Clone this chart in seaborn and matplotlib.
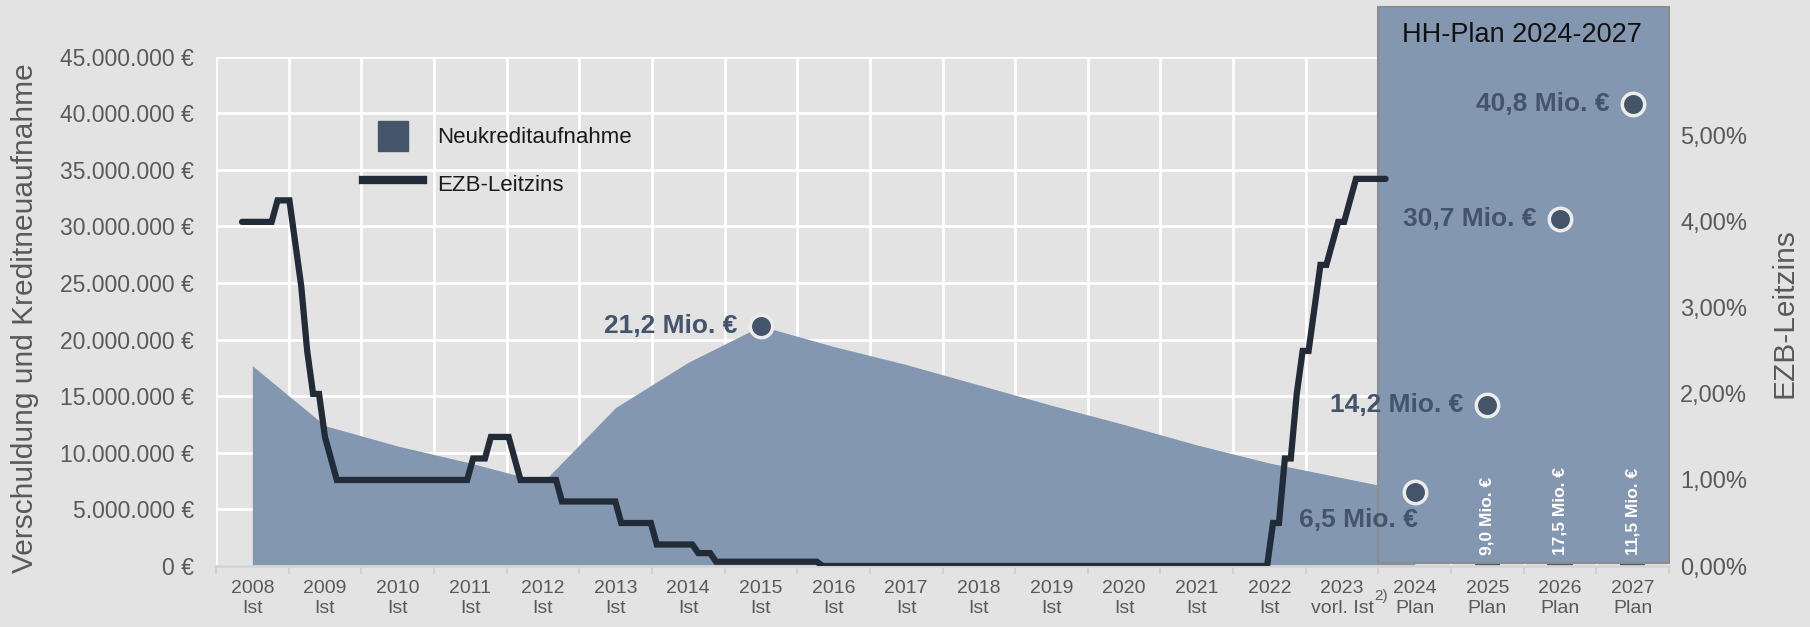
import numpy as np
import pandas as pd
import seaborn as sns
import matplotlib.pyplot as plt
from matplotlib.patches import Rectangle, Patch
from matplotlib.lines import Line2D
from matplotlib.legend_handler import HandlerPatch
from matplotlib.ticker import FuncFormatter, MultipleLocator

plt.rcParams['font.family'] = ['Liberation Sans Narrow', 'Liberation Sans', 'DejaVu Sans']

# categories on the x axis
years = [str(y) for y in range(2008, 2028)]
status = ['Ist'] * 15 + ['vorl. Ist'] + ['Plan'] * 4

# Verschuldung (area), Mio. EUR, 2008-2024
debt_years = years[:17]
debt = [17.7, 12.4, 10.6, 9.1, 7.4, 14.0, 18.0, 21.2, 19.4, 17.8, 16.0, 14.2, 12.5, 10.7, 9.1, 7.8, 6.5]

# marked debt values
mark_years = ['2015', '2024', '2025', '2026', '2027']
mark_values = [21.2, 6.5, 14.2, 30.7, 40.8]
mark_labels = ['21,2 Mio. €', '6,5 Mio. €', '14,2 Mio. €', '30,7 Mio. €', '40,8 Mio. €']

# Neukreditaufnahme (plan), Mio. EUR
new_years = ['2025', '2026', '2027']
new_credit = [9.0, 17.5, 11.5]
new_labels = ['9,0 Mio. €', '17,5 Mio. €', '11,5 Mio. €']

# EZB-Leitzins: month of change and new rate in %
rate_dates = ['2008-01', '2008-07', '2008-10', '2008-11', '2008-12', '2009-01', '2009-03', '2009-04',
              '2009-05', '2011-04', '2011-07', '2011-11', '2011-12', '2012-07', '2013-05', '2013-11',
              '2014-06', '2014-09', '2016-03', '2022-07', '2022-09', '2022-11', '2022-12', '2023-02',
              '2023-03', '2023-05', '2023-06', '2023-08', '2023-09']
rate_values = [4.00, 4.25, 3.75, 3.25, 2.50, 2.00, 1.50, 1.25,
               1.00, 1.25, 1.50, 1.25, 1.00, 0.75, 0.50, 0.25,
               0.15, 0.05, 0.00, 0.50, 1.25, 2.00, 2.50, 3.00,
               3.50, 3.75, 4.00, 4.25, 4.50]
rate_end = '2024-02'

BG = '#E3E3E3'
AREA = '#8397B0'
DARK = '#44546A'
LINE = '#222B38'
GRAY = '#595959'

fig = plt.figure(figsize=(18.1, 6.27), dpi=100, facecolor=BG)
ax = fig.add_axes([216 / 1810, 1 - 566 / 627, (1669 - 216) / 1810, (566 - 56.7) / 627])
ax.set_facecolor(BG)
ax.set_axisbelow(True)

pos = {y: i for i, y in enumerate(years)}

# debt area
ax.fill_between([pos[y] for y in debt_years], np.array(debt) * 1e6, color=AREA, lw=0, zorder=1)

# new credit bars (mostly hidden behind the plan box)
bar_df = pd.DataFrame({'x': [pos[y] for y in new_years], 'v': np.array(new_credit) * 1e6})
sns.barplot(data=bar_df, x='x', y='v', native_scale=True, width=0.35, color=DARK,
            saturation=1, ax=ax, zorder=2)

# plan box
ax.add_patch(Rectangle((15.5, 0.25e6), 4, 49.15e6, facecolor=AREA, edgecolor='#8C8C8C',
                       lw=1.5, clip_on=False, zorder=3))
fig.text(1522 / 1810, 1 - 35 / 627, 'HH-Plan 2024-2027', ha='center', va='center',
         fontsize=19.5, color='#111111')

for bar, lab in zip(ax.patches[:len(new_labels)], new_labels):
    ax.text(bar.get_x() + bar.get_width() / 2, 1.0e6, lab, rotation=90, ha='center', va='bottom',
            color='white', fontsize=12.5, fontweight='bold', zorder=6)

# marked values
mark_df = pd.DataFrame({'x': [pos[y] for y in mark_years], 'v': np.array(mark_values) * 1e6})
sns.scatterplot(data=mark_df, x='x', y='v', s=260, color=DARK, edgecolor='#ECECEC',
                linewidth=2.5, ax=ax, zorder=5, clip_on=False)
offsets = [(-17, 0), (2, -20), (-17, 0), (-17, 0), (-17, 0)]
for (x, v), lab, off in zip(mark_df.values, mark_labels, offsets):
    ax.annotate(lab, (x, v), xytext=off, textcoords='offset points', ha='right', va='center',
                fontsize=19, fontweight='bold', color=DARK, zorder=6)

# interest rate line
rate = pd.Series(rate_values, index=pd.PeriodIndex(rate_dates, freq='M'))
months = pd.period_range(rate_dates[0], rate_end, freq='M')
rate = rate.reindex(months).ffill()
rate_df = pd.DataFrame({'x': -0.142 + 0.08156 * np.arange(len(months)), 'rate': rate.values / 100})

ax2 = ax.twinx()
sns.lineplot(data=rate_df, x='x', y='rate', color=LINE, lw=4.5, errorbar=None, ax=ax2,
             solid_capstyle='round', solid_joinstyle='miter')

# axes formatting
ax.set_xlim(-0.5, 19.5)
ax.set_ylim(0, 45e6)
ax.set_xticks(range(len(years)))
ax.set_xticklabels([f'{y}\n{s}' for y, s in zip(years, status)], fontsize=14, color=GRAY,
                   linespacing=1.25)
ax.set_xticks(np.arange(-0.5, len(years), 1), minor=True)
ax.tick_params(axis='x', which='major', length=0, pad=10)
ax.tick_params(axis='x', which='minor', length=6, color='#D0D0D0', width=1.5)
ax.yaxis.set_major_locator(MultipleLocator(5e6))
ax.yaxis.set_major_formatter(FuncFormatter(lambda v, p: f'{v:,.0f} €'.replace(',', '.')))
ax.tick_params(axis='y', length=0, pad=16, labelsize=16.5, labelcolor=GRAY)
ax.grid(axis='x', which='minor', color='white', lw=2)
ax.grid(axis='y', which='major', color='white', lw=2)
ax.set_xlabel('')
ax.set_ylabel('')
for s in ['left', 'right', 'top']:
    ax.spines[s].set_visible(False)
ax.spines['bottom'].set_color('#D5D5D5')
ax.spines['bottom'].set_linewidth(2)

ax2.set_ylim(0, 0.0592)
ax2.yaxis.set_major_locator(MultipleLocator(0.01))
ax2.yaxis.set_major_formatter(FuncFormatter(lambda v, p: f'{v * 100:.2f}%'.replace('.', ',')))
ax2.tick_params(axis='y', length=0, pad=8, labelsize=17, labelcolor=GRAY)
ax2.set_xlabel('')
ax2.set_ylabel('')
for s in ax2.spines.values():
    s.set_visible(False)
ax.set_xlim(-0.5, 19.5)

fig.text(25 / 1810, 1 - 318 / 627, 'Verschuldung und Kreditneuaufnahme', rotation=90,
         ha='center', va='center', fontsize=21.5, color=GRAY)
fig.text(1784 / 1810, 1 - 313 / 627, 'EZB-Leitzins', rotation=90, ha='center', va='center',
         fontsize=21.5, color=GRAY)
fig.text(1381 / 1810, 1 - 596 / 627, '2)', ha='center', va='center', fontsize=11, color=GRAY)


def square_patch(legend, orig_handle, xdescent, ydescent, width, height, fontsize):
    return Rectangle((-xdescent + (width - height) / 2, -ydescent), height, height)


handles = [Patch(color=DARK), Line2D([], [], color=LINE, lw=6)]
fig.legend(handles, ['Neukreditaufnahme', 'EZB-Leitzins'], loc='upper left',
           bbox_to_anchor=(363 / 1810, 1 - 121 / 627), frameon=False, fontsize=16,
           borderpad=0, borderaxespad=0, handleheight=1.67, handlelength=2.7,
           handletextpad=0.63, labelspacing=0.81, labelcolor='#1A1A1A',
           handler_map={Patch: HandlerPatch(patch_func=square_patch)})

fig.savefig('out.png', dpi=100, facecolor=BG)
